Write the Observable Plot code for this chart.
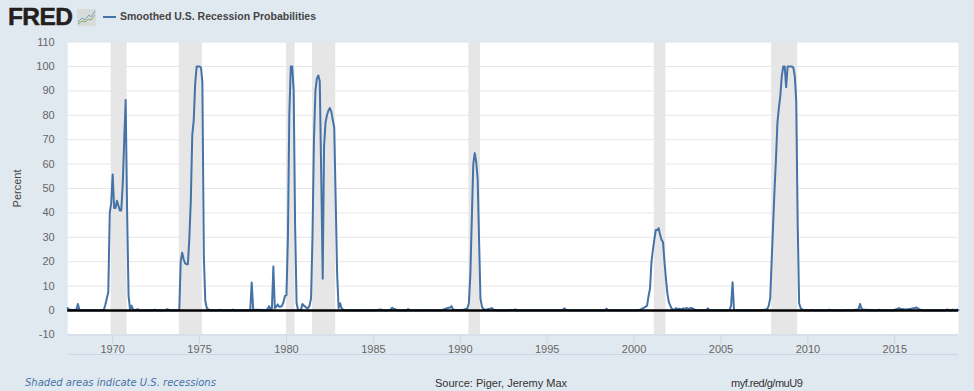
<!DOCTYPE html>
<html><head><meta charset="utf-8">
<script src="https://cdn.jsdelivr.net/npm/d3@7"></script>
<script src="https://cdn.jsdelivr.net/npm/@observablehq/plot@0.6"></script>
<style>
html,body{margin:0;padding:0;background:#e1e9f0;width:974px;height:391px;overflow:hidden}
#head{position:relative;height:41px}
#logo{position:absolute;left:8px;top:3px;font:900 24.5px/28px "Liberation Sans",sans-serif;color:#231f20;letter-spacing:-.6px;-webkit-text-stroke:.5px #231f20}
#icon{position:absolute;left:77px;top:9px}
#key{position:absolute;left:103px;top:16px;width:13px;height:2px;background:#4572a7}
#title{position:absolute;left:120px;top:8px;font:bold 10.5px/16px "Liberation Sans",sans-serif;color:#444;white-space:nowrap}
#chart{height:313px}#chart svg{display:block}
#rule{position:absolute;left:68px;top:354px;width:890px;height:1px;background:#ccd6eb}
.foot{position:absolute;top:376px;line-height:14px;white-space:nowrap}
#f1{left:25px;font:italic 10px/14px "DejaVu Sans",sans-serif;color:#4572a7}
#f2{left:435px;font:11px/14px "Liberation Sans",sans-serif;color:#333}
#f3{left:731px;font:11px/14px "Liberation Sans",sans-serif;color:#333;letter-spacing:-.5px}
</style></head><body>
<div id="head">
<div id="logo">FRED</div>
<svg id="icon" width="19" height="17"><rect width="19" height="17" fill="#d8dcd8"/><path d="M1 13L5 9 8 11 12 6 14 8 18 2" fill="none" stroke="#7d9cc0"/><path d="M1 15L5 12 8 13 12 10 14 11 18 6" fill="none" stroke="#8aa86a"/></svg>
<div id="key"></div>
<div id="title">Smoothed U.S. Recession Probabilities</div>
</div>
<div id="chart"></div>
<div id="rule"></div>
<div class="foot" id="f1">Shaded areas indicate U.S. recessions</div>
<div class="foot" id="f2">Source: Piger, Jeremy Max</div>
<div class="foot" id="f3">myf.red/g/muU9</div>
<script>
const seriesName = "Smoothed U.S. Recession Probabilities";
const startMonth = [1967, 5];
const endMonth = [2018, 8];
const values = [
 1.0,.3,.3,.2,.2,.3,.3,
 2.7,.3,.1,.1,.1,.1,.1,.1,.1,.1,.1,.1,
 .1,.1,.1,.1,.1,.2,.3,2.5,5,7.5,40,44,
 55.7,42,42,45,43,41,41,52,70,86.3,40,6,
 .5,2,.6,.2,.2,.5,.3,.1,.1,.1,.1,.1,
 .1,.1,.1,.1,.1,.3,.1,.1,.1,.1,.1,.1,
 .1,.4,.5,.2,.1,.1,.1,.1,.1,.1,.2,20,
 23.7,21,19.4,19,19,30,45,72,78,93,100,100,
 100,99.6,93.6,22,4,1,.5,.2,.1,.2,.1,.1,
 .1,.1,.3,.1,.1,.1,.1,.1,.1,.1,.1,.4,
 .1,.1,.1,.1,.1,.1,.1,.1,.1,.1,.1,.1,
 11.5,.4,.2,.3,.3,.2,.3,.2,.1,.1,.2,.6,
 1.8,.5,.6,18,1,1.5,2.5,1.5,1.5,2,3.5,6,
 6.3,30,80,100,100,90,35,3,.3,.1,.2,2.7,
 2,1.5,1,1,2,5,30,70,90,95,96.3,94,
 55,13,67,77,80,82,83,81.5,78,75,45,15,
 1,3,1,.4,.2,.1,.1,.1,.1,.1,.1,.1,
 .1,.1,.1,.1,.1,.1,.1,.1,.1,.1,.2,.1,
 .1,.2,.1,.3,.2,.4,.2,.1,.1,.1,.1,.2,
 .4,1.2,.6,.6,.2,.1,.1,.1,.1,.1,.1,.1,
 .6,.2,.1,.1,.1,.1,.1,.1,.1,.1,.1,.1,
 .2,.1,.1,.1,.1,.1,.1,.1,.1,.1,.1,.1,
 .3,.5,.7,.9,1.1,1.2,1.8,.4,.3,.2,.2,.2,
 .2,.2,.3,.4,.6,1,3,15,38,60,64.5,61,
 54,28,5,1.5,.6,.4,.3,.5,.6,.9,.9,.3,
 .2,.1,.1,.1,.1,.1,.1,.1,.1,.1,.2,.2,
 .2,.2,.5,.1,.1,.1,.1,.1,.1,.1,.1,.1,
 .1,.1,.1,.1,.1,.1,.1,.1,.1,.1,.1,.1,
 .1,.1,.1,.1,.1,.1,.1,.1,.1,.1,.1,.3,
 .9,.2,.1,.1,.1,.1,.1,.1,.1,.1,.1,.1,
 .1,.1,.1,.1,.1,.1,.1,.1,.1,.1,.1,.1,
 .1,.1,.1,.1,.1,.7,.2,.1,.1,.1,.1,.1,
 .1,.1,.1,.1,.1,.1,.1,.1,.1,.1,.1,.1,
 .1,.1,.1,.2,.3,.5,.9,1.2,1.6,2,6,9,
 20,25,29,33,33,33.7,31,29,28,20,13,7,
 3.4,2,.8,.4,.3,1,.5,.7,.5,.6,.9,.6,
 1,.8,.6,1,1,.7,.3,.1,.1,.1,.1,.1,
 .1,.1,.2,.9,.1,.1,.1,.1,.1,.1,.1,.1,
 .1,.1,.1,.1,.1,.1,.3,2,11.6,.3,.1,.1,
 .1,.2,.1,.1,.1,.2,.1,.1,.1,.2,.1,.1,
 .1,.1,.1,.1,.1,.2,.3,.4,.6,2,5,20,
 35,50,62,77,83,88,96,100,100,91.5,100,100,
 100,100,99.6,96,86,35,3,1,.4,.2,.1,.1,
 .1,.1,.2,.2,.1,.1,.1,.1,.2,.1,.1,.1,
 .1,.1,.2,.3,.2,.1,.1,.1,.1,.1,.1,.1,
 .1,.1,.1,.2,.2,.1,.1,.1,.2,.3,.3,.6,
 2.7,.8,.4,.3,.3,.2,.3,.1,.2,.1,.1,.1,
 .1,.3,.1,.1,.1,.1,.2,.1,.1,.1,.1,.1,
 .3,.5,.8,.9,.7,.6,.5,.4,.4,.5,.6,.6,
 .8,.9,1,1.2,.9,.4,.3,.1,.1,.1,.1,.1,
 .1,.1,.1,.1,.1,.1,.1,.1,.1,.1,.1,.1,
 .4,.3,.1,.1,.4,.1,.1,.3,.1
];
const recessionStart = ["1969-12","1973-11","1980-01","1981-07","1990-07","2001-03","2007-12"];
const recessionEnd   = ["1970-11","1975-03","1980-07","1982-11","1991-03","2001-11","2009-06"];
const yGridValues = [-10,0,10,20,30,40,50,60,70,80,90,100,110];
const xTickYears = [1970,1975,1980,1985,1990,1995,2000,2005,2010,2015];

const parse = d3.utcParse("%Y-%m");
const series = values.map((v,i)=>({date:new Date(Date.UTC(startMonth[0],startMonth[1]+i,1)),value:v}));
const recessions = recessionStart.map((s,i)=>({start:parse(s),end:parse(recessionEnd[i])}));
const font = '"Liberation Sans",Arial,sans-serif';

const plot = Plot.plot({
  width:974,height:313,
  marginLeft:67.2,marginRight:16,marginTop:.6,marginBottom:19.6,
  style:{background:"transparent",fontFamily:font,fontSize:"11px",overflow:"visible"},
  x:{type:"utc",domain:[series[0].date,new Date(Date.UTC(endMonth[0],endMonth[1],1))]},
  y:{domain:[-10,110]},
  marks:[
    Plot.frame({fill:"white",stroke:null}),
    Plot.ruleY(yGridValues,{stroke:"#e6e6e6",strokeWidth:1}),
    Plot.rect(recessions,{x1:"start",x2:"end",fill:"#e6e6e6"}),
    Plot.axisY({ticks:yGridValues,tickSize:0,tickPadding:13,color:"#666",tickFormat:d=>String(d),label:null}),
    Plot.axisX({ticks:xTickYears.map(y=>new Date(Date.UTC(y,0,1))),tickFormat:d3.utcFormat("%Y"),tickSize:10,tickPadding:0,color:"#666",stroke:"#ccd6eb",label:null}),
    Plot.axisY({ticks:[],tickSize:0,color:"#444",label:"Percent",labelAnchor:"center",labelArrow:"none",labelOffset:55}),
    Plot.ruleY([-10],{stroke:"#ccd6eb",strokeWidth:1}),
    Plot.line(series,{x:"date",y:"value",stroke:"#4572a7",strokeWidth:2,title:()=>seriesName}),
    Plot.ruleY([0],{stroke:"#000",strokeWidth:2.5})
  ]
});
document.getElementById("chart").append(plot);
</script>
</body></html>
